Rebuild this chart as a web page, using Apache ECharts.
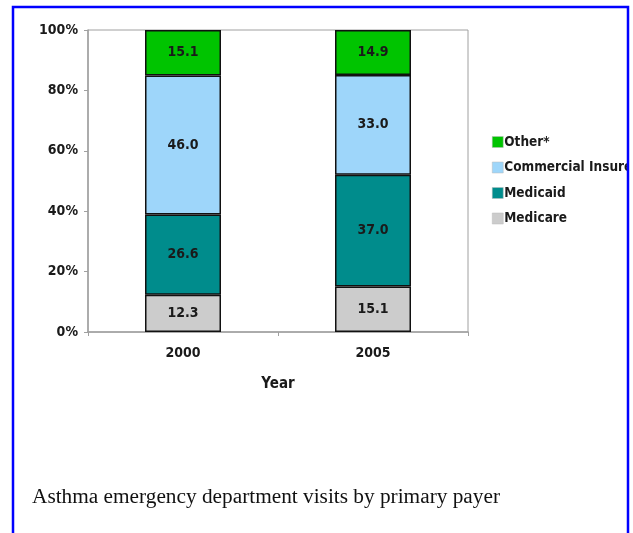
<!DOCTYPE html>
<html>
<head>
<meta charset="utf-8">
<script src="https://cdn.jsdelivr.net/npm/echarts@6/dist/echarts.min.js"></script>
<style>
html, body { margin: 0; padding: 0; background: #ffffff; }
#main { width: 633px; height: 533px; }
</style>
</head>
<body>
<div id="main"></div>
<script>
// 数据
var years = ['2000', '2005'];
var seriesNames = ['Medicare', 'Medicaid', 'Commercial Insurer', 'Other*'];
var medicare = [12.3, 15.1];
var medicaid = [26.6, 37.0];
var commercial = [46.0, 33.0];
var other = [15.1, 14.9];
var yTicks = [0, 20, 40, 60, 80, 100];
var colors = ['#cccccc', '#008c8c', '#9ed6fa', '#00c400'];

var labelFont = '"DejaVu Sans Condensed", "Liberation Sans Narrow", sans-serif';

var myChart = echarts.init(document.getElementById('main'));

function barSeries(name, data, idx) {
    return {
        name: name,
        type: 'bar',
        stack: 'total',
        barWidth: '40%',
        data: data,
        itemStyle: {
            color: colors[idx],
            borderColor: '#111111',
            borderWidth: 1.5
        },
        label: {
            show: true,
            position: 'inside',
            color: '#1a1a1a',
            fontFamily: labelFont,
            fontWeight: 'bold',
            fontSize: 14,
            formatter: function (p) { return p.value.toFixed(1); }
        }
    };
}

var option = {
    animation: false,
    backgroundColor: '#ffffff',
    grid: {
        left: 88,
        top: 30,
        right: 165,
        bottom: 201,
        show: true,
        borderColor: '#a0a0a0',
        borderWidth: 1
    },
    legend: {
        orient: 'vertical',
        left: 487,
        top: 130,
        itemWidth: 11,
        itemHeight: 11,
        itemGap: 11.5,
        icon: 'rect',
        itemStyle: { borderWidth: 0.5, borderColor: '#bbbbbb' },
        data: ['Other*', 'Commercial Insurer', 'Medicaid', 'Medicare'],
        textStyle: {
            fontFamily: labelFont,
            fontWeight: 'bold',
            fontSize: 13.5,
            color: '#1a1a1a',
            padding: [0, 0, 0, -4]
        }
    },
    xAxis: {
        type: 'category',
        data: years,
        name: 'Year',
        nameLocation: 'middle',
        nameGap: 45,
        nameTextStyle: {
            fontFamily: labelFont,
            fontWeight: 'bold',
            fontSize: 15,
            color: '#1a1a1a'
        },
        axisLine: { lineStyle: { color: '#a0a0a0', width: 1.5 } },
        axisTick: { show: true, length: 4, lineStyle: { color: '#a0a0a0' } },
        axisLabel: {
            margin: 14,
            fontFamily: labelFont,
            fontWeight: 'bold',
            fontSize: 14,
            color: '#1a1a1a'
        }
    },
    yAxis: {
        type: 'value',
        min: yTicks[0],
        max: yTicks[yTicks.length - 1],
        interval: 20,
        splitLine: { show: false },
        axisLine: { show: true, lineStyle: { color: '#a0a0a0', width: 1.5 } },
        axisTick: { show: true, length: 4, lineStyle: { color: '#a0a0a0' } },
        axisLabel: {
            margin: 10,
            fontFamily: labelFont,
            fontWeight: 'bold',
            fontSize: 14,
            color: '#1a1a1a',
            formatter: '{value}%'
        }
    },
    series: [
        barSeries(seriesNames[0], medicare, 0),
        barSeries(seriesNames[1], medicaid, 1),
        barSeries(seriesNames[2], commercial, 2),
        barSeries(seriesNames[3], other, 3)
    ],
    graphic: [
        {
            type: 'text',
            left: 32,
            top: 487,
            style: {
                text: 'Asthma emergency department visits by primary payer',
                fontFamily: '"Liberation Serif", "DejaVu Serif", serif',
                fontSize: 21.3,
                fill: '#111111'
            }
        },
        // 右侧遮挡，外框
        {
            type: 'rect',
            z: 100,
            shape: { x: 629, y: 0, width: 10, height: 533 },
            style: { fill: '#ffffff' }
        },
        {
            type: 'rect',
            z: 101,
            shape: { x: 13, y: 7, width: 615, height: 540 },
            style: { fill: null, stroke: '#0000ff', lineWidth: 2.5 }
        }
    ]
};

myChart.setOption(option);
</script>
</body>
</html>
